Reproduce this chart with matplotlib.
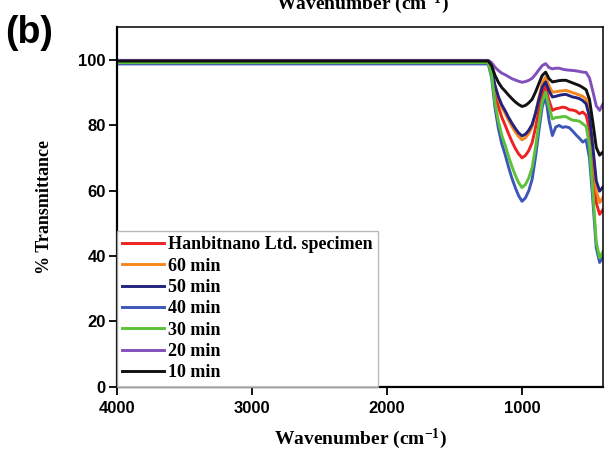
import matplotlib
matplotlib.use("Agg")
import matplotlib.pyplot as plt

# FT-IR spectra: wavenumber grid (cm^-1) and % transmittance per sample
wavenumber = [4000, 3000, 2000, 1500, 1250, 1225, 1200, 1175, 1150, 1125, 1100,
              1075, 1050, 1025, 1000, 975, 950, 925, 900, 875, 850, 825, 800,
              775, 750, 725, 700, 675, 650, 625, 600, 575, 550, 525, 500, 475,
              450, 425, 400]

hanbitnano = [99.4, 99.4, 99.4, 99.4, 99.4, 96.5, 90.0, 85.6, 82.4, 80.0, 77.4,
              75.0, 72.9, 71.2, 70.0, 70.7, 72.2, 74.6, 79.2, 84.6, 89.6, 91.8,
              87.5, 84.5, 85.0, 85.2, 85.5, 85.3, 84.7, 84.6, 84.3, 83.5, 84.0,
              83.0, 78.5, 67.9, 56.3, 52.7, 54.2]
min60 = [99.4, 99.4, 99.4, 99.4, 99.4, 97.0, 91.8, 88.2, 85.5, 83.6, 81.5,
         79.6, 77.9, 76.5, 75.5, 76.1, 77.4, 79.5, 83.6, 88.4, 92.8, 94.7,
         92.0, 90.1, 90.2, 90.4, 90.5, 90.6, 90.3, 89.9, 89.6, 89.2, 88.8,
         88.0, 83.2, 72.2, 60.1, 56.3, 57.9]
min50 = [99.4, 99.4, 99.4, 99.4, 99.4, 97.1, 92.1, 88.7, 86.2, 84.4, 82.4,
         80.6, 79.0, 77.6, 76.7, 77.2, 78.4, 80.2, 83.6, 87.8, 91.6, 93.2,
         90.5, 88.6, 88.8, 89.1, 89.3, 89.4, 89.0, 88.6, 88.4, 88.1, 87.5,
         86.5, 82.5, 73.2, 63.0, 59.8, 61.1]
min40 = [98.7, 98.7, 98.7, 98.7, 98.7, 94.5, 85.3, 79.0, 74.3, 71.0, 67.2,
         63.8, 60.9, 58.4, 56.7, 57.7, 59.9, 63.4, 70.2, 78.2, 85.6, 88.8,
         81.5, 76.8, 79.4, 79.9, 79.3, 79.5, 79.2, 78.2, 77.0, 76.0, 74.8,
         75.5, 69.9, 56.8, 42.5, 38.0, 39.9]
min30 = [99.1, 99.1, 99.1, 99.1, 99.1, 95.3, 86.9, 81.2, 76.9, 73.9, 70.5,
         67.4, 64.7, 62.4, 60.9, 61.8, 63.8, 67.0, 73.2, 80.5, 87.2, 90.1,
         85.5, 81.9, 82.3, 82.4, 82.6, 82.6, 82.0, 81.5, 81.4, 81.2, 80.4,
         79.6, 73.6, 59.5, 44.2, 39.4, 41.4]
min20 = [99.8, 99.8, 99.8, 99.8, 99.8, 99.1, 97.7, 96.7, 95.9, 95.4, 94.8,
         94.2, 93.8, 93.4, 93.1, 93.3, 93.7, 94.3, 95.5, 96.9, 98.2, 98.8,
         97.6, 97.2, 97.4, 97.4, 97.1, 96.9, 96.8, 96.7, 96.6, 96.4, 96.2,
         96.1, 94.4, 90.3, 85.9, 84.5, 86.5]
min10 = [99.6, 99.6, 99.6, 99.6, 99.6, 98.2, 95.2, 93.1, 91.5, 90.4, 89.2,
         88.1, 87.1, 86.3, 85.7, 86.0, 86.8, 87.9, 90.1, 92.7, 95.2, 96.2,
         94.2, 93.2, 93.4, 93.6, 93.7, 93.7, 93.3, 92.9, 92.5, 92.1, 91.5,
         90.8, 87.8, 80.8, 73.2, 70.8, 71.8]

labels = ["Hanbitnano Ltd. specimen", "60 min", "50 min", "40 min",
          "30 min", "20 min", "10 min"]
series = [hanbitnano, min60, min50, min40, min30, min20, min10]
colors = ["#ee2222", "#f7861e", "#23237e", "#3d57b8", "#5cc23a", "#8250bb", "#111111"]

x_ticks = [4000, 3000, 2000, 1000]
y_ticks = [0, 20, 40, 60, 80, 100]

serif = ["Liberation Serif", "DejaVu Serif"]
sans = ["Liberation Sans", "DejaVu Sans"]

plt.rcParams["mathtext.fontset"] = "custom"
plt.rcParams["mathtext.rm"] = "Liberation Serif:bold"
plt.rcParams["mathtext.bf"] = "Liberation Serif:bold"
plt.rcParams["mathtext.it"] = "Liberation Serif:bold"
plt.rcParams["axes.unicode_minus"] = False

xlabel_text = "Wavenumber (cm$^{\\mathregular{-1}}$)"

fig = plt.figure(figsize=(6.05, 4.57), dpi=100)
ax = fig.add_axes([117 / 605, 70.3 / 457, 486 / 605, 359.7 / 457])

for vals, lab, col in zip(series, labels, colors):
    ax.plot(wavenumber, vals, color=col, lw=2.1, label=lab)

ax.set_xlim(4000, 400)
ax.set_ylim(0, 110)
ax.set_xticks(x_ticks)
ax.set_yticks(y_ticks)
ax.tick_params(direction="out", length=6, width=1.3, pad=2, labelsize=12)
for t in ax.get_xticklabels() + ax.get_yticklabels():
    t.set_fontfamily(sans)
    t.set_fontweight("bold")
ax.tick_params(axis="x", pad=4)
for side in ["left", "bottom"]:
    ax.spines[side].set_linewidth(1.6)
for side in ["top", "right"]:
    ax.spines[side].set_linewidth(1.1)

ax.set_xlabel(xlabel_text, family=serif, fontweight="bold",
              fontsize=14, labelpad=8)
ax.set_ylabel("% Transmittance", family=serif, fontweight="bold", fontsize=13,
              labelpad=18)

leg = ax.legend(loc="lower left", bbox_to_anchor=(0, 0), borderaxespad=0,
                fancybox=False, frameon=True, edgecolor="#aaaaaa",
                prop={"family": serif, "weight": "bold", "size": 13},
                handlelength=2.3, handletextpad=0.2, labelspacing=0.24,
                borderpad=0.3)
leg.get_frame().set_linewidth(1.0)
for line in leg.get_lines():
    line.set_linewidth(2.1)

fig.text(29 / 605, 1 - 33 / 457, "(b)", family=sans, fontweight="bold",
         fontsize=27, ha="center", va="center")
fig.text(362 / 605, 1 - 9 / 457, xlabel_text, family=serif,
         fontweight="bold", fontsize=14, ha="center", va="baseline")

fig.savefig("out.png", dpi=100)
